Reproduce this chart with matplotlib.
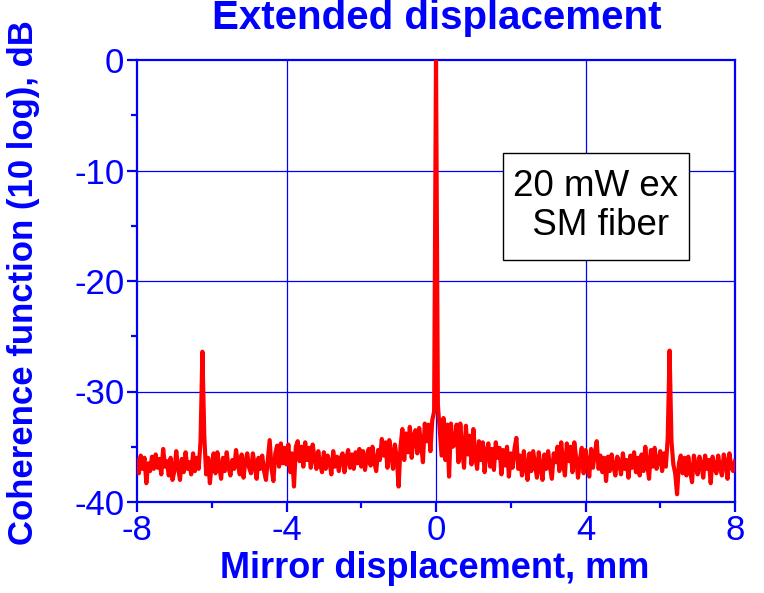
import numpy as np
import matplotlib
matplotlib.use("Agg")
import matplotlib.pyplot as plt
from matplotlib.patches import Rectangle

BLUE = "#0000ff"
RED = "#ff0000"

# mirror displacement samples, mm (0.05 mm steps)
displacement = np.linspace(-8, 8, 321)

# coherence function, dB in 0.5 mm blocks
coherence_db = [
    -36.2, -37.4, -35.8, -37.0, -36.0, -38.3, -36.5, -37.2, -35.9, -37.0,
    -35.7, -36.9, -36.1, -37.5, -35.2, -36.8, -36.3, -37.6, -36.0, -38.0,
    -37.2, -35.4, -36.9, -38.0, -36.1, -37.3, -35.5, -37.0, -36.4, -37.5,
    -35.6, -37.2, -36.0, -37.0, -34.5, -26.4, -34.0, -37.5, -36.0, -38.3,
    -36.5, -35.6, -37.4, -35.5, -36.8, -37.9, -36.0, -37.2, -35.5, -36.9,
    -37.6, -36.2, -37.0, -35.3, -36.6, -37.5, -35.7, -37.8, -36.3, -35.6,
    -36.9, -37.4, -35.6, -36.7, -37.9, -36.0, -37.0, -35.8, -37.2, -38.0,
    -36.2, -34.4, -37.0, -38.1, -35.6, -34.9, -36.8, -34.7, -36.5, -35.1,
    -36.6, -34.8, -37.3, -35.6, -38.6, -35.0, -34.5, -36.3, -35.0, -36.8,
    -34.6, -36.2, -35.1, -36.9, -34.8, -36.0, -37.0, -35.4, -36.6, -37.3,
    -35.5, -37.0, -35.8, -36.4, -37.5, -35.4, -36.8, -35.9, -37.2, -36.0,
    -35.6, -37.3, -36.1, -35.3, -36.9, -35.7, -37.0, -35.5, -36.5, -35.2,
    -36.8, -35.4, -37.1, -35.9, -35.2, -36.7, -35.0, -36.4, -37.2, -35.3,
    -36.2, -34.3, -35.8, -34.6, -36.9, -34.4, -35.6, -37.0, -34.8, -36.0,
    -38.6, -35.0, -33.4, -36.2, -33.8, -35.5, -33.2, -36.0, -34.0, -33.5,
    -35.6, -33.3, -34.7, -36.4, -32.9, -34.5, -33.0, -35.4, -32.6, -31.8,
    0.0, -31.2, -33.5, -35.8, -32.4, -36.2, -33.0, -37.7, -32.9, -35.0,
    -34.8, -33.0, -36.4, -32.9, -35.2, -36.9, -33.1, -35.7, -34.0, -36.6,
    -33.4, -35.8, -37.0, -34.5, -36.2, -34.6, -37.3, -35.4, -34.7, -36.8,
    -35.2, -37.1, -34.6, -36.0, -35.1, -37.5, -35.3, -36.7, -35.0, -37.7,
    -35.6, -36.9, -35.2, -34.2, -37.0, -35.8, -37.6, -35.4, -36.8, -38.0,
    -35.6, -37.2, -35.4, -36.6, -37.8, -35.5, -36.9, -38.0, -35.7, -37.0,
    -35.4, -36.8, -37.9, -35.6, -36.4, -35.0, -37.2, -34.6, -36.5, -37.6,
    -34.7, -36.3, -35.0, -37.3, -34.6, -36.0, -37.8, -36.2, -35.1, -37.4,
    -35.3, -36.6, -37.7, -35.2, -36.9, -35.6, -34.5, -37.0, -35.8, -37.3,
    -36.0, -38.1, -35.9, -37.2, -35.7, -36.8, -37.6, -35.9, -36.4, -37.5,
    -35.6, -37.0, -36.2, -37.8, -35.8, -36.9, -35.5, -37.3, -36.0, -37.6,
    -35.7, -37.2, -35.0, -36.6, -37.9, -35.3, -36.8, -35.1, -37.0, -36.3,
    -35.4, -37.2, -35.6, -36.8, -34.2, -26.3, -34.5, -36.6, -37.4, -39.3,
    -36.5, -35.8, -37.4, -36.0, -37.6, -35.9, -37.2, -38.2, -35.8, -36.7,
    -37.5, -35.9, -36.6, -37.8, -35.8, -37.0, -36.2, -38.3, -35.9, -36.8,
    -37.4, -35.8, -36.9, -37.6, -35.7, -36.4, -37.9, -35.6, -36.8, -37.2,
    -36.3,
]

x_ticks = [-8, -4, 0, 4, 8]
y_ticks = [0, -10, -20, -30, -40]

plt.rcParams["font.family"] = ["Liberation Sans", "DejaVu Sans"]

fig = plt.figure(figsize=(7.64, 5.93), dpi=100)
ax = fig.add_axes([137 / 764, 1 - 502 / 593, 598 / 764, 442 / 593])

ax.plot(displacement, coherence_db, color=RED, lw=3.0, zorder=3)

ax.set_xlim(-8, 8)
ax.set_ylim(-40, 0)
ax.set_xticks(x_ticks)
ax.set_xticklabels([str(v) for v in x_ticks])
ax.set_yticks(y_ticks)
ax.set_yticklabels([str(v) for v in y_ticks])
ax.set_xticks([-6, -2, 2, 6], minor=True)
ax.set_yticks([-5, -15, -25, -35], minor=True)

for side in ax.spines.values():
    side.set_color(BLUE)
    side.set_linewidth(1.6)

ax.tick_params(which="major", direction="out", length=7, width=1.6, color=BLUE,
               labelcolor=BLUE, labelsize=25, pad=2)
ax.tick_params(which="minor", direction="out", length=4, width=1.6, color=BLUE)
ax.tick_params(top=False, right=False)

for gx in [-4, 0, 4]:
    ax.axvline(gx, color=BLUE, lw=0.9, zorder=1)
for gy in [-10, -20, -30]:
    ax.axhline(gy, color=BLUE, lw=0.9, zorder=1)

# annotation box
ax.add_patch(Rectangle((366 / 598, 242 / 442), 186 / 598, 107 / 442, transform=ax.transAxes,
                       fc="white", ec="black", lw=1.0, zorder=4))
ax.text(459 / 598, 296 / 442, "20 mW ex\n SM fiber", transform=ax.transAxes, fontsize=26.5,
        color="black", ha="center", va="center", linespacing=1.17, zorder=5)

fig.text(437 / 764, 1 - 29 / 593, "Extended displacement", ha="center", va="baseline",
         fontsize=29, fontweight="bold", color=BLUE)
fig.text(435 / 764, 1 - 578 / 593, "Mirror displacement, mm", ha="center", va="baseline",
         fontsize=26, fontweight="bold", color=BLUE)
fig.text(24 / 764, 1 - 545 / 593, "Coherence function (10 log), dB", ha="center", va="bottom",
         rotation=90, fontsize=25, fontweight="bold", color=BLUE)

fig.savefig("out.png", dpi=100)
